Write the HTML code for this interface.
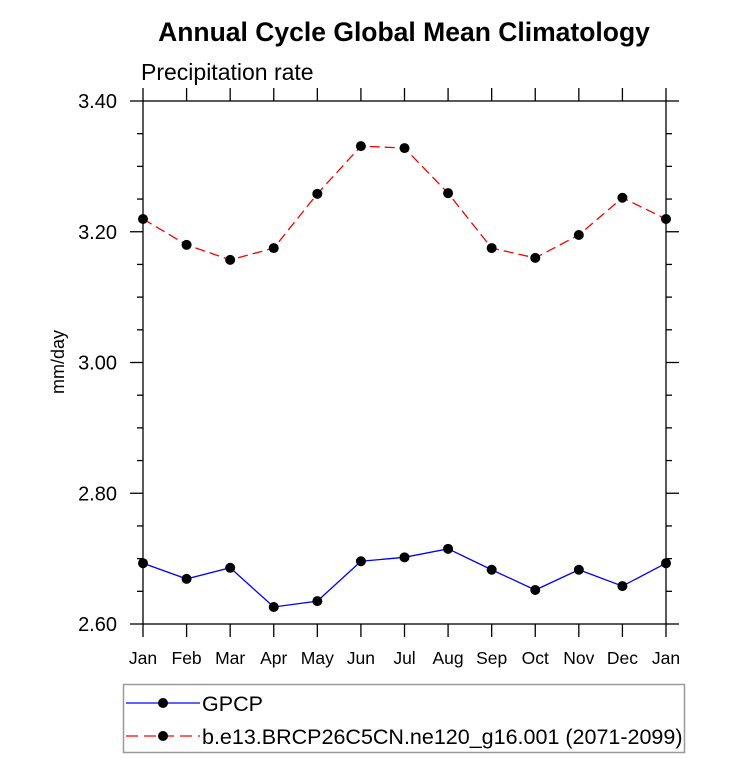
<!DOCTYPE html>
<html><head><meta charset="utf-8"><style>
body{margin:0;background:#fff;}
svg{display:block;font-family:"Liberation Sans",Arial,sans-serif;}
</style></head><body>
<svg id="c" width="733" height="759" viewBox="0 0 733 759">
<text x="404" y="41" text-anchor="middle" font-size="26.5" font-weight="bold">Annual Cycle Global Mean Climatology</text>
<text x="141" y="80" font-size="23">Precipitation rate</text>
<text transform="translate(64,362) rotate(-90)" text-anchor="middle" font-size="18">mm/day</text>
<g id="axes"></g>
<g id="series"></g>
<g>
<rect x="123.5" y="684.5" width="561" height="68" fill="none" stroke="#999" stroke-width="1.5"/>
<g>
<line x1="126" y1="703" x2="200" y2="703" stroke="#0000ff" stroke-width="1.3"/>
<circle cx="163" cy="703" r="5" fill="#000"/>
<text x="202" y="711" font-size="21.5">GPCP</text></g>
<g>
<line x1="126" y1="736" x2="200" y2="736" stroke="#ff0000" stroke-width="1.3" stroke-dasharray="12,6"/>
<circle cx="163" cy="736" r="5" fill="#000"/>
<text x="202" y="744" font-size="21.5">b.e13.BRCP26C5CN.ne120_g16.001 (2071-2099)</text></g>
</g>
</svg>
<script>
const months=["Jan","Feb","Mar","Apr","May","Jun","Jul","Aug","Sep","Oct","Nov","Dec","Jan"];
const gpcp=[2.693,2.669,2.686,2.626,2.635,2.696,2.702,2.715,2.683,2.652,2.683,2.658,2.693];
const model=[3.2195,3.180,3.157,3.175,3.258,3.331,3.328,3.259,3.175,3.160,3.195,3.252,3.2195];
const yTicks=[2.60,2.80,3.00,3.20,3.40];
const yTickLabels=["2.60","2.80","3.00","3.20","3.40"];
const NS="http://www.w3.org/2000/svg";
const L=143,R=666,T=101,B=624,ymin=2.6,ymax=3.4;
const xs=i=>L+(R-L)*i/(months.length-1);
const ys=v=>B-(v-ymin)/(ymax-ymin)*(B-T);
function mk(tag,at,parent){const e=document.createElementNS(NS,tag);for(const k in at)e.setAttribute(k,at[k]);parent.appendChild(e);return e;}
const ax=document.getElementById('axes');
const fr=mk('rect',{x:L,y:T,width:R-L,height:B-T,fill:'none',stroke:'#000','stroke-width':1.3},ax);


months.forEach((m,i)=>{const x=xs(i);
mk('line',{x1:x,y1:B,x2:x,y2:B+13,stroke:'#000','stroke-width':1.3},ax);
mk('line',{x1:x,y1:T,x2:x,y2:T-13,stroke:'#000','stroke-width':1.3},ax);
const t=mk('text',{x:x,y:B+40,'text-anchor':'middle','font-size':17.5},ax);t.textContent=m;

});
for(let v=ymin;v<=ymax+1e-6;v+=0.05){const y=ys(v);const major=Math.abs((v-ymin)/0.2-Math.round((v-ymin)/0.2))<1e-6;const len=major?13:6;
mk('line',{x1:L,y1:y,x2:L-len,y2:y,stroke:'#000','stroke-width':1.3},ax);
mk('line',{x1:R,y1:y,x2:R+len,y2:y,stroke:'#000','stroke-width':1.3},ax);}
yTicks.forEach((v,i)=>{const t=mk('text',{x:117,y:ys(v)+7,'text-anchor':'end','font-size':20},ax);t.textContent=yTickLabels[i];

});
const sg=document.getElementById('series');
function draw(vals,color,dash,name){const g=mk('g',{},sg);


mk('polyline',{points:vals.map((v,i)=>xs(i)+','+ys(v)).join(' '),fill:'none',stroke:color,'stroke-width':1.3,'stroke-dasharray':dash},g);
vals.forEach((v,i)=>{const c=mk('circle',{cx:xs(i),cy:ys(v),r:5,fill:'#000'},g);

});}
draw(gpcp,'#0000ff','none','gpcp-series');
draw(model,'#ff0000','10,5','model-series');
</script>
</body></html>
